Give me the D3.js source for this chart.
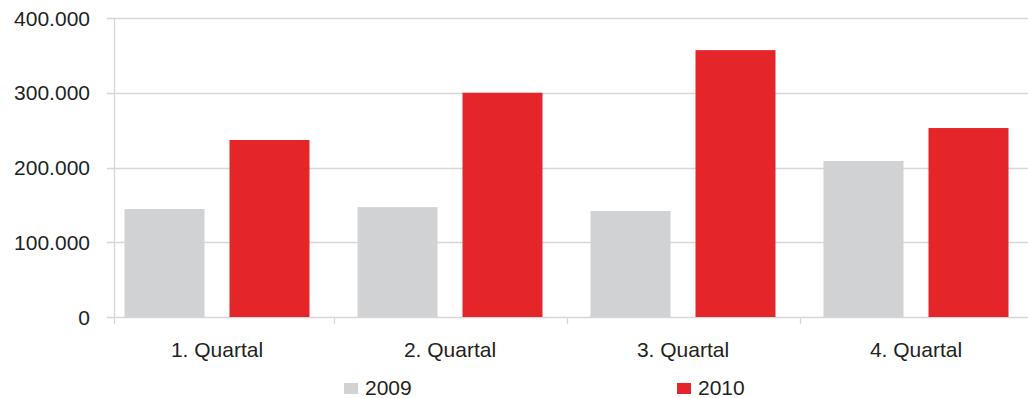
<!DOCTYPE html>
<html><head><meta charset="utf-8">
<script src="https://cdn.jsdelivr.net/npm/d3@7"></script>
<style>body{margin:0;background:#fff;}svg{display:block;font-family:"Liberation Sans",Arial,sans-serif;}</style>
</head><body>
<svg id="c" width="1028" height="398"></svg>
<script>
const categories = ["1. Quartal", "2. Quartal", "3. Quartal", "4. Quartal"];
const seriesNames = ["2009", "2010"];
const values2009 = [144500, 147000, 141800, 208700];
const values2010 = [236800, 300000, 357000, 252800];
const yTicks = [0, 100000, 200000, 300000, 400000];
const colors = ["#d1d2d4", "#e4262a"];

const svg = d3.select("#c");
const W = 1028;
const axisX = 114;
const y = d3.scaleLinear().domain([0, 400000]).range([317, 18]);
const x0 = d3.scaleBand().domain(categories).range([100.5, 1032.5]).paddingInner(0).paddingOuter(0);
const x1 = d3.scaleBand().domain(seriesNames).range([0, x0.bandwidth()]).paddingInner(0.238).paddingOuter(0.2286);
const fmt = v => d3.format(",")(v).replace(/,/g, ".");

// gridlines
svg.append("g").selectAll("line").data(yTicks).join("line")
  .attr("x1", 107).attr("x2", W)
  .attr("y1", d => Math.round(y(d)) + 0.5).attr("y2", d => Math.round(y(d)) + 0.5)
  .attr("stroke", "#d6d6d6").attr("stroke-width", 1.3);

// y axis line
svg.append("line").attr("x1", axisX + 0.5).attr("x2", axisX + 0.5)
  .attr("y1", 18).attr("y2", 324).attr("stroke", "#d6d6d6").attr("stroke-width", 1.3);

// category ticks
svg.append("g").selectAll("line").data(categories.slice(1)).join("line")
  .attr("x1", d => Math.round(x0(d)) + 0.5).attr("x2", d => Math.round(x0(d)) + 0.5)
  .attr("y1", 317).attr("y2", 324).attr("stroke", "#d6d6d6").attr("stroke-width", 1.3);

// y labels
svg.append("g").selectAll("text").data(yTicks).join("text")
  .attr("x", 90).attr("y", d => y(d)).attr("dy", "0.36em")
  .attr("text-anchor", "end").attr("font-size", 21).attr("fill", "#231f20")
  .text(d => fmt(d));

// bars
const data = categories.map((c, i) => ({c, vals: [values2009[i], values2010[i]]}));
const g = svg.append("g").selectAll("g").data(data).join("g")
  .attr("transform", d => `translate(${x0(d.c)},0)`);
g.selectAll("rect").data(d => d.vals.map((v, j) => ({s: seriesNames[j], v, j}))).join("rect")
  .attr("x", d => x1(d.s)).attr("width", x1.bandwidth())
  .attr("y", d => y(d.v)).attr("height", d => y(0) - y(d.v))
  .attr("fill", d => colors[d.j]);

// x labels
svg.append("g").selectAll("text").data(categories).join("text")
  .attr("x", d => x0(d) + x0.bandwidth() / 2).attr("y", 357)
  .attr("text-anchor", "middle").attr("font-size", 21).attr("fill", "#231f20")
  .text(d => d);

// legend
const legendX = [344, 677];
const lg = svg.append("g").selectAll("g").data(seriesNames).join("g")
  .attr("transform", (d, i) => `translate(${legendX[i]},0)`);
lg.append("rect").attr("x", 0).attr("y", 383).attr("width", 14).attr("height", 11)
  .attr("fill", (d, i) => colors[i]);
lg.append("text").attr("x", 21).attr("y", 395).attr("font-size", 21).attr("fill", "#231f20").text(d => d);
</script>
</body></html>
